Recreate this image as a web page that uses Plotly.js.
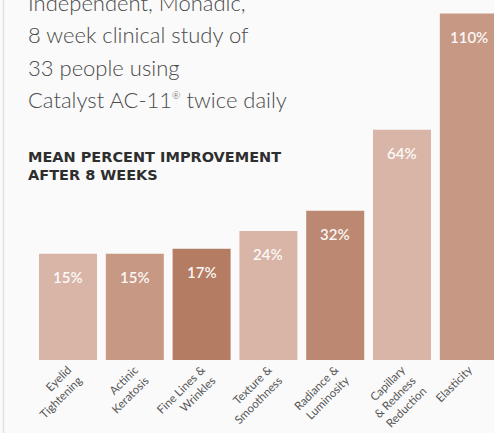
<!DOCTYPE html>
<html>
<head>
<meta charset="utf-8">
<script src="https://cdn.plot.ly/plotly-3.0.1.min.js"></script>
<style>
  html, body { margin: 0; padding: 0; background: #fafafa; }
  #chart { width: 494px; height: 433px; }
</style>
</head>
<body>
<div id="chart"></div>
<script>
// ---- data ----
const categories = [
  "Eyelid<br>Tightening",
  "Actinic<br>Keratosis",
  "Fine Lines &<br>Wrinkles",
  "Texture &<br>Smoothness",
  "Radiance &<br>Luminosity",
  "Capillary<br>& Redness<br>Reduction",
  "Elasticity"
];
const improvement = [15, 15, 17, 24, 32, 64, 110];   // mean % improvement after 8 weeks
const valueLabels = ["15%", "15%", "17%", "24%", "32%", "64%", "110%"];
const introLines = [
  "Independent, Monadic,",
  "8 week clinical study of",
  "33 people using",
  "Catalyst AC-11<sup><span style='font-size:10px'>®</span></sup> twice daily"
];
const headingLines = ["MEAN PERCENT IMPROVEMENT", "AFTER 8 WEEKS"];

// ---- style ----
const barColors = ["#d8b5a6", "#c79884", "#b47c63", "#d8b5a6", "#bc8871", "#d8b5a6", "#c79884"];
const W = 494, H = 433;
const M = { l: 30, r: 0, t: 0, b: 73 };
const plotW = W - M.l - M.r, plotH = H - M.t - M.b;
const yMin = -27, yMax = 115.3;
const xRange = [-0.569, 6.377];
const FONT = "Lato, sans-serif";

const px2paperX = px => (px - M.l) / plotW;
const px2paperY = py => 1 - (py - M.t) / plotH;

const trace = {
  type: "bar",
  x: categories,
  y: improvement.map(v => v - yMin),
  base: yMin,
  marker: { color: barColors, line: { width: 0 } },
  hoverinfo: "skip",
  cliponaxis: true
};

const annotations = [];
improvement.forEach((v, i) => {
  annotations.push({
    x: categories[i], y: v, xref: "x", yref: "y",
    text: valueLabels[i], showarrow: false,
    yshift: -23.5, yanchor: "middle", xanchor: "center",
    font: { family: FONT, size: 15, weight: 600, color: "rgba(255,255,255,0.95)" }
  });
});
const introY = [3, 35, 67, 99];
introLines.forEach((t, i) => {
  annotations.push({
    x: px2paperX(25.5), y: px2paperY(introY[i]), xref: "paper", yref: "paper",
    text: t, showarrow: false, xanchor: "left", yanchor: "middle",
    font: { family: FONT, size: 22, weight: 300, color: "#4a4a4a" }
  });
});
const headY = [157, 175];
headingLines.forEach((t, i) => {
  annotations.push({
    x: px2paperX(26), y: px2paperY(headY[i]), xref: "paper", yref: "paper",
    text: t, showarrow: false, xanchor: "left", yanchor: "middle",
    font: { family: "'DejaVu Sans', sans-serif", size: 14.5, weight: 700, color: "#2e2e2e" }
  });
});

const layout = {
  width: W, height: H,
  margin: M,
  paper_bgcolor: "#fafafa",
  plot_bgcolor: "#fafafa",
  showlegend: false,
  bargap: 0.132,
  xaxis: {
    range: xRange, showgrid: false, zeroline: false, showline: false,
    ticks: "", tickangle: -45,
    tickfont: { family: FONT, size: 11.5, color: "#555" },
    fixedrange: true
  },
  yaxis: {
    range: [yMin, yMax], visible: false, showgrid: false, zeroline: false, fixedrange: true
  },
  annotations: annotations,
  shapes: [{
    type: "line", xref: "paper", yref: "paper",
    x0: px2paperX(3.5), x1: px2paperX(3.5), y0: px2paperY(0), y1: px2paperY(H),
    line: { color: "#e2e2e2", width: 1.5 }
  }]
};

Plotly.newPlot("chart", [trace], layout, { displayModeBar: false, staticPlot: true });
</script>
</body>
</html>
